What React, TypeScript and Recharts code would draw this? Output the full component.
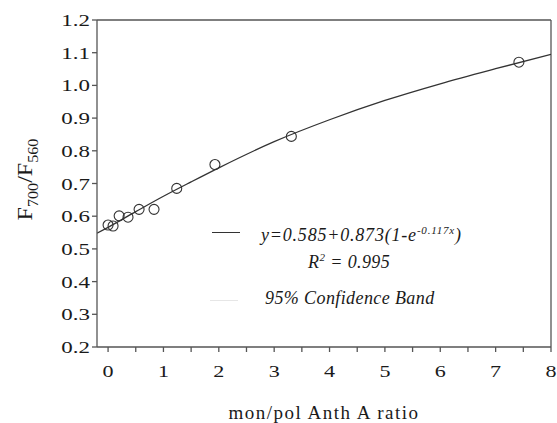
import {
  ComposedChart, Line, Scatter, XAxis, YAxis, ReferenceLine,
} from 'recharts'

// fitted curve
const curveX = [-0.2, 0, 0.5, 1, 1.5, 2, 3, 4, 5, 6, 7, 8]
const curveY = [0.548, 0.566, 0.614, 0.661, 0.705, 0.748, 0.828, 0.895, 0.954, 1.005, 1.051, 1.095]

// measured points
const ptX = [0.0, 0.09, 0.2, 0.36, 0.56, 0.83, 1.24, 1.93, 3.31, 7.42]
const ptY = [0.573, 0.570, 0.601, 0.597, 0.621, 0.621, 0.685, 0.758, 0.844, 1.071]

const xTicks = [0, 0.5, 1, 1.5, 2, 2.5, 3, 3.5, 4, 4.5, 5, 5.5, 6, 6.5, 7, 7.5, 8]
const yTicks = [0.2, 0.25, 0.3, 0.35, 0.4, 0.45, 0.5, 0.55, 0.6, 0.65, 0.7, 0.75, 0.8, 0.85, 0.9, 0.95, 1.0, 1.05, 1.1, 1.15, 1.2]

const curve = curveX.map((x, i) => ({ x, y: curveY[i] }))
const points = ptX.map((x, i) => ({ x, y: ptY[i] }))

const FONT = '"Liberation Serif", "Times New Roman", serif'
const AXIS = '#555'
const INK = '#1a1a1a'

const XTick = ({ x, y, payload }: any) => {
  if (!Number.isInteger(payload.value)) return <g />
  return (
    <g transform={`translate(${x},${y}) scale(1.3,1)`}>
      <text textAnchor="middle" dy="0.71em" fontSize={17} fill={INK} fontFamily={FONT}>
        {payload.value}
      </text>
    </g>
  )
}

const YTick = ({ x, y, payload }: any) => {
  const v = payload.value
  if (Math.round(v * 100) % 10 !== 0) return <g />
  return (
    <g transform={`translate(${x},${y}) scale(1.35,1)`}>
      <text textAnchor="end" dy="0.355em" fontSize={17} fill={INK} fontFamily={FONT}>
        {v.toFixed(1)}
      </text>
    </g>
  )
}

const YLabel = ({ viewBox }: any) => {
  const cy = viewBox.y + viewBox.height / 2
  return (
    <g transform={`translate(32,${cy - 4}) rotate(-90) scale(1.15,1)`}>
      <text textAnchor="middle" fontSize={21} fill={INK} fontFamily={FONT}>
        F<tspan fontSize={14} dy={6}>700</tspan>
        <tspan dy={-6}>/F</tspan>
        <tspan fontSize={14} dy={6}>560</tspan>
      </text>
    </g>
  )
}

const XLabel = ({ viewBox }: any) => {
  const cx = viewBox.x + viewBox.width / 2
  return (
    <text x={cx} y={419} textAnchor="middle" fontSize={19} letterSpacing={1.5} fill={INK} fontFamily={FONT}>
      mon/pol Anth A ratio
    </text>
  )
}

const OpenCircle = ({ cx, cy }: any) => (
  <circle cx={cx} cy={cy} r={5} fill="none" stroke="#333" strokeWidth={1.1} />
)

export default function App() {
  return (
    <div style={{ position: 'absolute', left: 0, top: 0, width: 557, height: 423, background: '#fff' }}>
      <ComposedChart width={557} height={423} margin={{ top: 20, right: 6, bottom: 0, left: 0 }}>
        <XAxis
          dataKey="x"
          type="number"
          domain={[-0.2, 8]}
          ticks={xTicks}
          allowDataOverflow
          height={76}
          stroke={AXIS}
          strokeWidth={1.3}
          tickSize={5}
          tickMargin={13}
          tick={<XTick />}
          label={<XLabel />}
        />
        <YAxis
          dataKey="y"
          type="number"
          domain={[0.2, 1.2]}
          ticks={yTicks}
          allowDataOverflow
          width={97}
          stroke={AXIS}
          strokeWidth={1.3}
          tickSize={5}
          tickMargin={2}
          tick={<YTick />}
          label={<YLabel />}
        />
        <ReferenceLine y={1.2} stroke={AXIS} strokeWidth={1.3} />
        <ReferenceLine x={8} stroke={AXIS} strokeWidth={1.3} />
        <Line
          data={curve}
          dataKey="y"
          type="monotone"
          stroke="#333"
          strokeWidth={1.3}
          dot={false}
          activeDot={false}
          isAnimationActive={false}
        />
        <Scatter data={points} dataKey="y" shape={<OpenCircle />} isAnimationActive={false} />
      </ComposedChart>

      {/* legend box inside the plot */}
      <div style={{ position: 'absolute', left: 0, top: 0, fontFamily: FONT, fontStyle: 'italic', fontSize: 18, color: INK }}>
        <div style={{ position: 'absolute', left: 212, top: 232, width: 28, height: 0, borderTop: '1.3px solid #333' }} />
        <div style={{ position: 'absolute', left: 261, top: 224, whiteSpace: 'nowrap', letterSpacing: 0.8 }}>
          y=0.585+0.873(1-e<sup style={{ fontSize: 11 }}>-0.117x</sup>)
        </div>
        <div style={{ position: 'absolute', left: 308, top: 251, whiteSpace: 'nowrap', letterSpacing: 0.4 }}>
          R<sup style={{ fontSize: 11 }}>2</sup> = 0.995
        </div>
        <div style={{ position: 'absolute', left: 210, top: 300, width: 28, height: 0, borderTop: '1px solid #e6e6e6' }} />
        <div style={{ position: 'absolute', left: 265, top: 288, whiteSpace: 'nowrap', letterSpacing: 0.4 }}>
          95% Confidence Band
        </div>
      </div>
    </div>
  )
}
